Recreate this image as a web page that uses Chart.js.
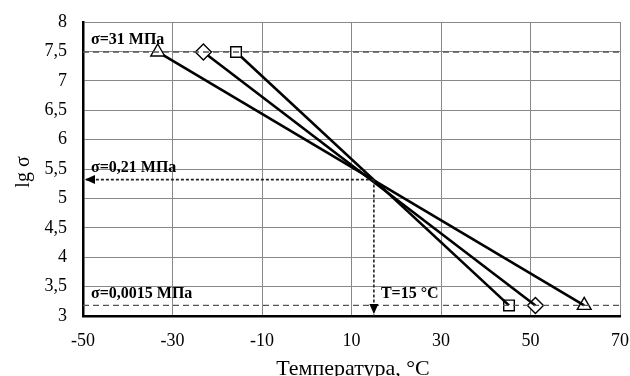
<!DOCTYPE html>
<html>
<head>
<meta charset="utf-8">
<script src="https://cdn.jsdelivr.net/npm/chart.js@4.4.1/dist/chart.umd.min.js"></script>
<style>
  body { margin: 0; background: #fff; }
  #wrap { width: 630px; height: 376px; }
</style>
</head>
<body>
<div id="wrap"><canvas id="tempChart"></canvas></div>
<script>
// data
var triT = [-33.3, 62];
var triS = [7.49, 3.18];
var diaT = [-23.1, 51.1];
var diaS = [7.49, 3.18];
var sqT = [-15.8, 45.2];
var sqS = [7.49, 3.18];

var sigmaHigh = 7.49;   // σ=31 МПа
var sigmaMid = 5.32;    // σ=0,21 МПа
var sigmaLow = 3.18;    // σ=0,0015 МПа
var tCross = 15;        // T=15 °C

var xMin = -50, xMax = 70, yMin = 3, yMax = 8;

var serif = '"Liberation Serif", "Times New Roman", serif';
Chart.defaults.font.family = serif;
Chart.defaults.color = '#000';

function pts(xs, ys) {
    return xs.map(function (x, i) { return { x: x, y: ys[i] }; });
}

function marker(style, r) {
    return {
        showLine: true, borderColor: '#000', borderWidth: 2.6,
        pointStyle: [style, false], pointRadius: [r, 0],
        pointBackgroundColor: '#fff', pointBorderColor: '#000', pointBorderWidth: 1.4
    };
}

// labels, titles and arrow heads
var extras = {
    id: 'extras',
    afterDatasetsDraw: function (chart) {
        var ctx = chart.ctx;
        var sx = chart.scales.x, sy = chart.scales.y;
        ctx.save();
        ctx.fillStyle = '#000';
        // arrow heads
        var ay = sy.getPixelForValue(sigmaMid);
        var ax = sx.getPixelForValue(xMin);
        ctx.beginPath();
        ctx.moveTo(ax + 2, ay);
        ctx.lineTo(ax + 12, ay - 4.5);
        ctx.lineTo(ax + 12, ay + 4.5);
        ctx.closePath();
        ctx.fill();
        var bx = sx.getPixelForValue(tCross);
        var by = sy.getPixelForValue(yMin);
        ctx.beginPath();
        ctx.moveTo(bx, by - 2);
        ctx.lineTo(bx - 4.5, by - 12);
        ctx.lineTo(bx + 4.5, by - 12);
        ctx.closePath();
        ctx.fill();

        // annotations
        ctx.font = 'bold 16px ' + serif;
        ctx.textBaseline = 'middle';
        ctx.textAlign = 'left';
        var lx = sx.getPixelForValue(xMin) + 8;
        ctx.fillText('σ=31 МПа', lx, sy.getPixelForValue(sigmaHigh) - 12);
        ctx.fillText('σ=0,21 МПа', lx, ay - 12);
        ctx.fillText('σ=0,0015 МПа', lx, sy.getPixelForValue(sigmaLow) - 12);
        ctx.fillText('T=15 °C', bx + 7, sy.getPixelForValue(sigmaLow) - 12);

        // axis titles
        ctx.font = '22px ' + serif;
        ctx.textAlign = 'center';
        ctx.textBaseline = 'alphabetic';
        ctx.fillText('Температура, °C', 353, 375);
        ctx.textBaseline = 'middle';
        ctx.translate(24, 172);
        ctx.rotate(-Math.PI / 2);
        ctx.font = '20px ' + serif;
        ctx.fillText('lg σ', 0, 0);
        ctx.restore();
    }
};

new Chart(document.getElementById('tempChart'), {
    type: 'scatter',
    data: {
        datasets: [
            {
                data: pts([xMin, xMax], [sigmaHigh, sigmaHigh]), showLine: true,
                borderColor: '#555', borderWidth: 1.3, borderDash: [6, 4], pointRadius: 0
            },
            {
                data: pts([xMin, xMax], [sigmaLow, sigmaLow]), showLine: true,
                borderColor: '#555', borderWidth: 1.3, borderDash: [6, 4], pointRadius: 0
            },
            {
                data: pts([tCross, xMin], [sigmaMid, sigmaMid]), showLine: true,
                borderColor: '#222', borderWidth: 1.6, borderDash: [3, 2], pointRadius: 0
            },
            {
                data: pts([tCross, tCross], [sigmaMid, yMin]), showLine: true,
                borderColor: '#222', borderWidth: 1.6, borderDash: [3, 2], pointRadius: 0
            },
            Object.assign({ data: pts(triT, triS) }, marker('triangle', 8)),
            Object.assign({ data: pts(diaT, diaS) }, marker('rectRot', 8)),
            Object.assign({ data: pts(sqT, sqS) }, marker('rect', 7.5)),
            // end markers
            Object.assign({ data: pts([triT[1], diaT[1], sqT[1]], [triS[1], diaS[1], sqS[1]]),
                showLine: false, pointStyle: ['triangle', 'rectRot', 'rect'], pointRadius: [8, 8, 7.5],
                pointBackgroundColor: '#fff', pointBorderColor: '#000', pointBorderWidth: 1.4 })
        ]
    },
    options: {
        responsive: true,
        maintainAspectRatio: false,
        animation: false,
        layout: { padding: { top: 22, right: 10, left: 0, bottom: 0 } },
        plugins: { legend: { display: false }, tooltip: { enabled: false } },
        scales: {
            x: {
                type: 'linear', min: xMin, max: xMax,
                afterFit: function (s) { s.height = 60; s.paddingRight = 0; s.paddingLeft = 0; },
                ticks: { stepSize: 20, padding: 14, font: { size: 18 }, maxRotation: 0 },
                grid: { color: '#888', lineWidth: 1, drawTicks: false },
                border: { color: '#000', width: 2.5 }
            },
            y: {
                min: yMin, max: yMax,
                afterFit: function (s) { s.width = 83; s.paddingTop = 0; s.paddingBottom = 0; },
                ticks: {
                    stepSize: 0.5, padding: 16, font: { size: 18 },
                    callback: function (v) { return String(v).replace('.', ','); }
                },
                grid: { color: '#888', lineWidth: 1, drawTicks: false },
                border: { color: '#000', width: 2.5 }
            }
        }
    },
    plugins: [extras]
});
</script>
</body>
</html>
